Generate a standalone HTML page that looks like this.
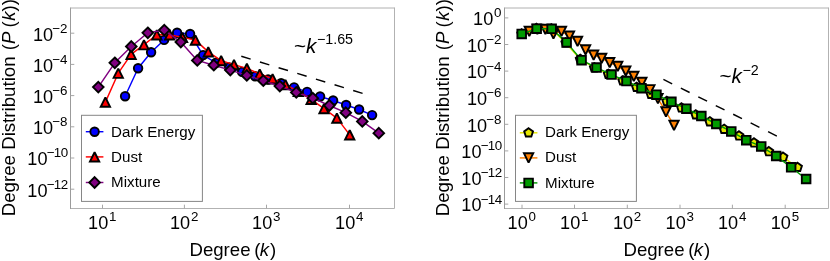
<!DOCTYPE html>
<html><head><meta charset="utf-8"><title>Degree distributions</title>
<style>html,body{margin:0;padding:0;background:#fff;}svg{display:block;}</style></head>
<body>
<svg width="830" height="261" viewBox="0 0 830 261" font-family='"Liberation Sans", sans-serif' fill="#000">
<rect width="830" height="261" fill="#fff"/>
<defs><filter id="nf" filterUnits="userSpaceOnUse" x="0" y="0" width="830" height="261" color-interpolation-filters="sRGB"><feOffset dx="0" dy="0"/></filter></defs>
<polyline points="70.5,208.5 394.5,208.5 394.5,8.0" fill="none" stroke="#b2b2b2" stroke-width="1" stroke-linecap="square"/>
<line x1="70.5" y1="7.5" x2="70.5" y2="209.0" stroke="#9b9b9b" stroke-width="1"/>
<line x1="70.5" y1="8.0" x2="394.5" y2="8.0" stroke="#b0b0b0" stroke-width="1"/>
<line x1="102.50" y1="208.5" x2="102.50" y2="204.7" stroke="#a6a6a6" stroke-width="1"/>
<line x1="184.40" y1="208.5" x2="184.40" y2="204.7" stroke="#a6a6a6" stroke-width="1"/>
<line x1="266.50" y1="208.5" x2="266.50" y2="204.7" stroke="#a6a6a6" stroke-width="1"/>
<line x1="349.50" y1="208.5" x2="349.50" y2="204.7" stroke="#a6a6a6" stroke-width="1"/>
<line x1="70.5" y1="33.20" x2="74.3" y2="33.20" stroke="#a6a6a6" stroke-width="1"/>
<line x1="70.5" y1="64.40" x2="74.3" y2="64.40" stroke="#a6a6a6" stroke-width="1"/>
<line x1="70.5" y1="95.60" x2="74.3" y2="95.60" stroke="#a6a6a6" stroke-width="1"/>
<line x1="70.5" y1="126.80" x2="74.3" y2="126.80" stroke="#a6a6a6" stroke-width="1"/>
<line x1="70.5" y1="158.00" x2="74.3" y2="158.00" stroke="#a6a6a6" stroke-width="1"/>
<line x1="70.5" y1="189.20" x2="74.3" y2="189.20" stroke="#a6a6a6" stroke-width="1"/>
<polyline points="125.10,96.20 138.10,68.20 151.10,52.30 164.10,39.90 177.10,32.70 190.10,34.00 203.10,55.10 216.10,62.80 229.10,67.40 242.10,71.90 255.10,76.20 268.10,79.50 281.10,83.30 294.10,87.40 307.10,91.90 320.10,96.50 333.10,100.50 346.10,105.00 359.10,109.50 372.10,115.10" fill="none" stroke="#0000ff" stroke-width="1.45" stroke-linejoin="round"/>
<circle cx="125.10" cy="96.20" r="4.25" fill="#0000ff" stroke="#000" stroke-width="1.9"/>
<circle cx="138.10" cy="68.20" r="4.25" fill="#0000ff" stroke="#000" stroke-width="1.9"/>
<circle cx="151.10" cy="52.30" r="4.25" fill="#0000ff" stroke="#000" stroke-width="1.9"/>
<circle cx="164.10" cy="39.90" r="4.25" fill="#0000ff" stroke="#000" stroke-width="1.9"/>
<circle cx="177.10" cy="32.70" r="4.25" fill="#0000ff" stroke="#000" stroke-width="1.9"/>
<circle cx="190.10" cy="34.00" r="4.25" fill="#0000ff" stroke="#000" stroke-width="1.9"/>
<circle cx="203.10" cy="55.10" r="4.25" fill="#0000ff" stroke="#000" stroke-width="1.9"/>
<circle cx="216.10" cy="62.80" r="4.25" fill="#0000ff" stroke="#000" stroke-width="1.9"/>
<circle cx="229.10" cy="67.40" r="4.25" fill="#0000ff" stroke="#000" stroke-width="1.9"/>
<circle cx="242.10" cy="71.90" r="4.25" fill="#0000ff" stroke="#000" stroke-width="1.9"/>
<circle cx="255.10" cy="76.20" r="4.25" fill="#0000ff" stroke="#000" stroke-width="1.9"/>
<circle cx="268.10" cy="79.50" r="4.25" fill="#0000ff" stroke="#000" stroke-width="1.9"/>
<circle cx="281.10" cy="83.30" r="4.25" fill="#0000ff" stroke="#000" stroke-width="1.9"/>
<circle cx="294.10" cy="87.40" r="4.25" fill="#0000ff" stroke="#000" stroke-width="1.9"/>
<circle cx="307.10" cy="91.90" r="4.25" fill="#0000ff" stroke="#000" stroke-width="1.9"/>
<circle cx="320.10" cy="96.50" r="4.25" fill="#0000ff" stroke="#000" stroke-width="1.9"/>
<circle cx="333.10" cy="100.50" r="4.25" fill="#0000ff" stroke="#000" stroke-width="1.9"/>
<circle cx="346.10" cy="105.00" r="4.25" fill="#0000ff" stroke="#000" stroke-width="1.9"/>
<circle cx="359.10" cy="109.50" r="4.25" fill="#0000ff" stroke="#000" stroke-width="1.9"/>
<circle cx="372.10" cy="115.10" r="4.25" fill="#0000ff" stroke="#000" stroke-width="1.9"/>
<polyline points="105.40,102.10 118.26,73.20 131.12,54.30 143.98,44.70 156.84,34.80 169.70,34.80 182.56,37.40 195.42,40.10 208.28,51.90 221.14,60.60 234.00,64.60 246.86,68.40 259.72,74.00 272.58,78.80 285.44,84.60 298.30,91.40 311.16,99.40 324.02,108.60 336.88,118.10 349.74,134.90" fill="none" stroke="#ff0000" stroke-width="1.45" stroke-linejoin="round"/>
<polygon points="105.40,97.45 100.75,106.75 110.05,106.75" fill="#ff0000" stroke="#000" stroke-width="1.9" stroke-linejoin="miter" stroke-miterlimit="2"/>
<polygon points="118.26,68.55 113.61,77.85 122.91,77.85" fill="#ff0000" stroke="#000" stroke-width="1.9" stroke-linejoin="miter" stroke-miterlimit="2"/>
<polygon points="131.12,49.65 126.47,58.95 135.77,58.95" fill="#ff0000" stroke="#000" stroke-width="1.9" stroke-linejoin="miter" stroke-miterlimit="2"/>
<polygon points="143.98,40.05 139.33,49.35 148.63,49.35" fill="#ff0000" stroke="#000" stroke-width="1.9" stroke-linejoin="miter" stroke-miterlimit="2"/>
<polygon points="156.84,30.15 152.19,39.45 161.49,39.45" fill="#ff0000" stroke="#000" stroke-width="1.9" stroke-linejoin="miter" stroke-miterlimit="2"/>
<polygon points="169.70,30.15 165.05,39.45 174.35,39.45" fill="#ff0000" stroke="#000" stroke-width="1.9" stroke-linejoin="miter" stroke-miterlimit="2"/>
<polygon points="182.56,32.75 177.91,42.05 187.21,42.05" fill="#ff0000" stroke="#000" stroke-width="1.9" stroke-linejoin="miter" stroke-miterlimit="2"/>
<polygon points="195.42,35.45 190.77,44.75 200.07,44.75" fill="#ff0000" stroke="#000" stroke-width="1.9" stroke-linejoin="miter" stroke-miterlimit="2"/>
<polygon points="208.28,47.25 203.63,56.55 212.93,56.55" fill="#ff0000" stroke="#000" stroke-width="1.9" stroke-linejoin="miter" stroke-miterlimit="2"/>
<polygon points="221.14,55.95 216.49,65.25 225.79,65.25" fill="#ff0000" stroke="#000" stroke-width="1.9" stroke-linejoin="miter" stroke-miterlimit="2"/>
<polygon points="234.00,59.95 229.35,69.25 238.65,69.25" fill="#ff0000" stroke="#000" stroke-width="1.9" stroke-linejoin="miter" stroke-miterlimit="2"/>
<polygon points="246.86,63.75 242.21,73.05 251.51,73.05" fill="#ff0000" stroke="#000" stroke-width="1.9" stroke-linejoin="miter" stroke-miterlimit="2"/>
<polygon points="259.72,69.35 255.07,78.65 264.37,78.65" fill="#ff0000" stroke="#000" stroke-width="1.9" stroke-linejoin="miter" stroke-miterlimit="2"/>
<polygon points="272.58,74.15 267.93,83.45 277.23,83.45" fill="#ff0000" stroke="#000" stroke-width="1.9" stroke-linejoin="miter" stroke-miterlimit="2"/>
<polygon points="285.44,79.95 280.79,89.25 290.09,89.25" fill="#ff0000" stroke="#000" stroke-width="1.9" stroke-linejoin="miter" stroke-miterlimit="2"/>
<polygon points="298.30,86.75 293.65,96.05 302.95,96.05" fill="#ff0000" stroke="#000" stroke-width="1.9" stroke-linejoin="miter" stroke-miterlimit="2"/>
<polygon points="311.16,94.75 306.51,104.05 315.81,104.05" fill="#ff0000" stroke="#000" stroke-width="1.9" stroke-linejoin="miter" stroke-miterlimit="2"/>
<polygon points="324.02,103.95 319.37,113.25 328.67,113.25" fill="#ff0000" stroke="#000" stroke-width="1.9" stroke-linejoin="miter" stroke-miterlimit="2"/>
<polygon points="336.88,113.45 332.23,122.75 341.53,122.75" fill="#ff0000" stroke="#000" stroke-width="1.9" stroke-linejoin="miter" stroke-miterlimit="2"/>
<polygon points="349.74,130.25 345.09,139.55 354.39,139.55" fill="#ff0000" stroke="#000" stroke-width="1.9" stroke-linejoin="miter" stroke-miterlimit="2"/>
<polyline points="98.30,87.10 114.80,62.80 131.30,46.50 147.80,32.80 164.30,30.10 180.80,42.00 197.30,60.40 213.80,65.20 230.30,70.10 246.80,75.40 263.30,80.70 279.80,86.10 296.30,92.40 312.80,98.20 329.30,105.50 345.80,112.70 362.30,121.40 378.80,133.20" fill="none" stroke="#800080" stroke-width="1.45" stroke-linejoin="round"/>
<polygon points="98.30,81.80 103.60,87.10 98.30,92.40 93.00,87.10" fill="#800080" stroke="#000" stroke-width="1.9" stroke-linejoin="miter" stroke-miterlimit="4"/>
<polygon points="114.80,57.50 120.10,62.80 114.80,68.10 109.50,62.80" fill="#800080" stroke="#000" stroke-width="1.9" stroke-linejoin="miter" stroke-miterlimit="4"/>
<polygon points="131.30,41.20 136.60,46.50 131.30,51.80 126.00,46.50" fill="#800080" stroke="#000" stroke-width="1.9" stroke-linejoin="miter" stroke-miterlimit="4"/>
<polygon points="147.80,27.50 153.10,32.80 147.80,38.10 142.50,32.80" fill="#800080" stroke="#000" stroke-width="1.9" stroke-linejoin="miter" stroke-miterlimit="4"/>
<polygon points="164.30,24.80 169.60,30.10 164.30,35.40 159.00,30.10" fill="#800080" stroke="#000" stroke-width="1.9" stroke-linejoin="miter" stroke-miterlimit="4"/>
<polygon points="180.80,36.70 186.10,42.00 180.80,47.30 175.50,42.00" fill="#800080" stroke="#000" stroke-width="1.9" stroke-linejoin="miter" stroke-miterlimit="4"/>
<polygon points="197.30,55.10 202.60,60.40 197.30,65.70 192.00,60.40" fill="#800080" stroke="#000" stroke-width="1.9" stroke-linejoin="miter" stroke-miterlimit="4"/>
<polygon points="213.80,59.90 219.10,65.20 213.80,70.50 208.50,65.20" fill="#800080" stroke="#000" stroke-width="1.9" stroke-linejoin="miter" stroke-miterlimit="4"/>
<polygon points="230.30,64.80 235.60,70.10 230.30,75.40 225.00,70.10" fill="#800080" stroke="#000" stroke-width="1.9" stroke-linejoin="miter" stroke-miterlimit="4"/>
<polygon points="246.80,70.10 252.10,75.40 246.80,80.70 241.50,75.40" fill="#800080" stroke="#000" stroke-width="1.9" stroke-linejoin="miter" stroke-miterlimit="4"/>
<polygon points="263.30,75.40 268.60,80.70 263.30,86.00 258.00,80.70" fill="#800080" stroke="#000" stroke-width="1.9" stroke-linejoin="miter" stroke-miterlimit="4"/>
<polygon points="279.80,80.80 285.10,86.10 279.80,91.40 274.50,86.10" fill="#800080" stroke="#000" stroke-width="1.9" stroke-linejoin="miter" stroke-miterlimit="4"/>
<polygon points="296.30,87.10 301.60,92.40 296.30,97.70 291.00,92.40" fill="#800080" stroke="#000" stroke-width="1.9" stroke-linejoin="miter" stroke-miterlimit="4"/>
<polygon points="312.80,92.90 318.10,98.20 312.80,103.50 307.50,98.20" fill="#800080" stroke="#000" stroke-width="1.9" stroke-linejoin="miter" stroke-miterlimit="4"/>
<polygon points="329.30,100.20 334.60,105.50 329.30,110.80 324.00,105.50" fill="#800080" stroke="#000" stroke-width="1.9" stroke-linejoin="miter" stroke-miterlimit="4"/>
<polygon points="345.80,107.40 351.10,112.70 345.80,118.00 340.50,112.70" fill="#800080" stroke="#000" stroke-width="1.9" stroke-linejoin="miter" stroke-miterlimit="4"/>
<polygon points="362.30,116.10 367.60,121.40 362.30,126.70 357.00,121.40" fill="#800080" stroke="#000" stroke-width="1.9" stroke-linejoin="miter" stroke-miterlimit="4"/>
<polygon points="378.80,127.90 384.10,133.20 378.80,138.50 373.50,133.20" fill="#800080" stroke="#000" stroke-width="1.9" stroke-linejoin="miter" stroke-miterlimit="4"/>
<line x1="241.3" y1="56.3" x2="363.4" y2="93.6" stroke="#000" stroke-width="1.45" stroke-dasharray="9.8 9.7"/>
<rect x="81.5" y="115.3" width="120.9" height="86.10000000000001" fill="#fff" stroke="#868686" stroke-width="1"/>
<line x1="85.80" y1="131.7" x2="103.40" y2="131.7" stroke="#0000ff" stroke-width="1.45"/>
<circle cx="94.60" cy="131.70" r="4.25" fill="#0000ff" stroke="#000" stroke-width="1.9"/>
<line x1="85.80" y1="156.9" x2="103.40" y2="156.9" stroke="#ff0000" stroke-width="1.45"/>
<polygon points="94.60,152.25 89.95,161.55 99.25,161.55" fill="#ff0000" stroke="#000" stroke-width="1.9" stroke-linejoin="miter" stroke-miterlimit="2"/>
<line x1="85.80" y1="182.5" x2="103.40" y2="182.5" stroke="#800080" stroke-width="1.45"/>
<polygon points="94.60,177.20 99.90,182.50 94.60,187.80 89.30,182.50" fill="#800080" stroke="#000" stroke-width="1.9" stroke-linejoin="miter" stroke-miterlimit="4"/>
<polyline points="504.5,208.5 828.5,208.5 828.5,8.0" fill="none" stroke="#b2b2b2" stroke-width="1" stroke-linecap="square"/>
<line x1="504.5" y1="7.5" x2="504.5" y2="209.0" stroke="#9b9b9b" stroke-width="1"/>
<line x1="504.5" y1="8.0" x2="828.5" y2="8.0" stroke="#b0b0b0" stroke-width="1"/>
<line x1="522.00" y1="208.5" x2="522.00" y2="204.7" stroke="#a6a6a6" stroke-width="1"/>
<line x1="574.50" y1="208.5" x2="574.50" y2="204.7" stroke="#a6a6a6" stroke-width="1"/>
<line x1="627.30" y1="208.5" x2="627.30" y2="204.7" stroke="#a6a6a6" stroke-width="1"/>
<line x1="680.00" y1="208.5" x2="680.00" y2="204.7" stroke="#a6a6a6" stroke-width="1"/>
<line x1="732.40" y1="208.5" x2="732.40" y2="204.7" stroke="#a6a6a6" stroke-width="1"/>
<line x1="785.20" y1="208.5" x2="785.20" y2="204.7" stroke="#a6a6a6" stroke-width="1"/>
<line x1="504.5" y1="17.90" x2="508.3" y2="17.90" stroke="#a6a6a6" stroke-width="1"/>
<line x1="504.5" y1="44.50" x2="508.3" y2="44.50" stroke="#a6a6a6" stroke-width="1"/>
<line x1="504.5" y1="71.10" x2="508.3" y2="71.10" stroke="#a6a6a6" stroke-width="1"/>
<line x1="504.5" y1="97.70" x2="508.3" y2="97.70" stroke="#a6a6a6" stroke-width="1"/>
<line x1="504.5" y1="124.30" x2="508.3" y2="124.30" stroke="#a6a6a6" stroke-width="1"/>
<line x1="504.5" y1="150.90" x2="508.3" y2="150.90" stroke="#a6a6a6" stroke-width="1"/>
<line x1="504.5" y1="177.50" x2="508.3" y2="177.50" stroke="#a6a6a6" stroke-width="1"/>
<line x1="504.5" y1="204.10" x2="508.3" y2="204.10" stroke="#a6a6a6" stroke-width="1"/>
<polyline points="521.70,33.90 536.50,28.30 551.50,28.90 565.80,42.90 580.20,59.20 594.30,67.70 608.30,74.20 622.80,80.70 636.50,87.20 651.00,94.20 666.80,101.40 681.50,107.90 695.80,114.80 709.80,121.70 724.10,129.20 739.00,135.90 754.00,142.90 768.80,151.60 783.00,157.10 797.50,167.30" fill="none" stroke="#e6e600" stroke-width="1.45" stroke-linejoin="round"/>
<polygon points="521.70,29.25 526.12,32.46 524.43,37.66 518.97,37.66 517.28,32.46" fill="#e6e600" stroke="#000" stroke-width="1.9" stroke-linejoin="miter" stroke-miterlimit="4"/>
<polygon points="536.50,23.65 540.92,26.86 539.23,32.06 533.77,32.06 532.08,26.86" fill="#e6e600" stroke="#000" stroke-width="1.9" stroke-linejoin="miter" stroke-miterlimit="4"/>
<polygon points="551.50,24.25 555.92,27.46 554.23,32.66 548.77,32.66 547.08,27.46" fill="#e6e600" stroke="#000" stroke-width="1.9" stroke-linejoin="miter" stroke-miterlimit="4"/>
<polygon points="565.80,38.25 570.22,41.46 568.53,46.66 563.07,46.66 561.38,41.46" fill="#e6e600" stroke="#000" stroke-width="1.9" stroke-linejoin="miter" stroke-miterlimit="4"/>
<polygon points="580.20,54.55 584.62,57.76 582.93,62.96 577.47,62.96 575.78,57.76" fill="#e6e600" stroke="#000" stroke-width="1.9" stroke-linejoin="miter" stroke-miterlimit="4"/>
<polygon points="594.30,63.05 598.72,66.26 597.03,71.46 591.57,71.46 589.88,66.26" fill="#e6e600" stroke="#000" stroke-width="1.9" stroke-linejoin="miter" stroke-miterlimit="4"/>
<polygon points="608.30,69.55 612.72,72.76 611.03,77.96 605.57,77.96 603.88,72.76" fill="#e6e600" stroke="#000" stroke-width="1.9" stroke-linejoin="miter" stroke-miterlimit="4"/>
<polygon points="622.80,76.05 627.22,79.26 625.53,84.46 620.07,84.46 618.38,79.26" fill="#e6e600" stroke="#000" stroke-width="1.9" stroke-linejoin="miter" stroke-miterlimit="4"/>
<polygon points="636.50,82.55 640.92,85.76 639.23,90.96 633.77,90.96 632.08,85.76" fill="#e6e600" stroke="#000" stroke-width="1.9" stroke-linejoin="miter" stroke-miterlimit="4"/>
<polygon points="651.00,89.55 655.42,92.76 653.73,97.96 648.27,97.96 646.58,92.76" fill="#e6e600" stroke="#000" stroke-width="1.9" stroke-linejoin="miter" stroke-miterlimit="4"/>
<polygon points="666.80,96.75 671.22,99.96 669.53,105.16 664.07,105.16 662.38,99.96" fill="#e6e600" stroke="#000" stroke-width="1.9" stroke-linejoin="miter" stroke-miterlimit="4"/>
<polygon points="681.50,103.25 685.92,106.46 684.23,111.66 678.77,111.66 677.08,106.46" fill="#e6e600" stroke="#000" stroke-width="1.9" stroke-linejoin="miter" stroke-miterlimit="4"/>
<polygon points="695.80,110.15 700.22,113.36 698.53,118.56 693.07,118.56 691.38,113.36" fill="#e6e600" stroke="#000" stroke-width="1.9" stroke-linejoin="miter" stroke-miterlimit="4"/>
<polygon points="709.80,117.05 714.22,120.26 712.53,125.46 707.07,125.46 705.38,120.26" fill="#e6e600" stroke="#000" stroke-width="1.9" stroke-linejoin="miter" stroke-miterlimit="4"/>
<polygon points="724.10,124.55 728.52,127.76 726.83,132.96 721.37,132.96 719.68,127.76" fill="#e6e600" stroke="#000" stroke-width="1.9" stroke-linejoin="miter" stroke-miterlimit="4"/>
<polygon points="739.00,131.25 743.42,134.46 741.73,139.66 736.27,139.66 734.58,134.46" fill="#e6e600" stroke="#000" stroke-width="1.9" stroke-linejoin="miter" stroke-miterlimit="4"/>
<polygon points="754.00,138.25 758.42,141.46 756.73,146.66 751.27,146.66 749.58,141.46" fill="#e6e600" stroke="#000" stroke-width="1.9" stroke-linejoin="miter" stroke-miterlimit="4"/>
<polygon points="768.80,146.95 773.22,150.16 771.53,155.36 766.07,155.36 764.38,150.16" fill="#e6e600" stroke="#000" stroke-width="1.9" stroke-linejoin="miter" stroke-miterlimit="4"/>
<polygon points="783.00,152.45 787.42,155.66 785.73,160.86 780.27,160.86 778.58,155.66" fill="#e6e600" stroke="#000" stroke-width="1.9" stroke-linejoin="miter" stroke-miterlimit="4"/>
<polygon points="797.50,162.65 801.92,165.86 800.23,171.06 794.77,171.06 793.08,165.86" fill="#e6e600" stroke="#000" stroke-width="1.9" stroke-linejoin="miter" stroke-miterlimit="4"/>
<polyline points="529.30,31.40 537.34,29.40 545.38,29.40 553.42,33.90 561.46,31.40 569.50,36.10 577.54,41.40 585.58,49.90 593.62,55.20 601.66,58.40 609.70,62.70 617.74,66.40 625.78,71.10 633.82,76.40 641.86,82.40 649.90,89.80 657.94,98.70 665.98,111.90 674.02,125.40" fill="none" stroke="#ff8000" stroke-width="1.45" stroke-linejoin="round"/>
<polygon points="529.30,36.05 524.65,26.75 533.95,26.75" fill="#ff8000" stroke="#000" stroke-width="1.9" stroke-linejoin="miter" stroke-miterlimit="2"/>
<polygon points="537.34,34.05 532.69,24.75 541.99,24.75" fill="#ff8000" stroke="#000" stroke-width="1.9" stroke-linejoin="miter" stroke-miterlimit="2"/>
<polygon points="545.38,34.05 540.73,24.75 550.03,24.75" fill="#ff8000" stroke="#000" stroke-width="1.9" stroke-linejoin="miter" stroke-miterlimit="2"/>
<polygon points="553.42,38.55 548.77,29.25 558.07,29.25" fill="#ff8000" stroke="#000" stroke-width="1.9" stroke-linejoin="miter" stroke-miterlimit="2"/>
<polygon points="561.46,36.05 556.81,26.75 566.11,26.75" fill="#ff8000" stroke="#000" stroke-width="1.9" stroke-linejoin="miter" stroke-miterlimit="2"/>
<polygon points="569.50,40.75 564.85,31.45 574.15,31.45" fill="#ff8000" stroke="#000" stroke-width="1.9" stroke-linejoin="miter" stroke-miterlimit="2"/>
<polygon points="577.54,46.05 572.89,36.75 582.19,36.75" fill="#ff8000" stroke="#000" stroke-width="1.9" stroke-linejoin="miter" stroke-miterlimit="2"/>
<polygon points="585.58,54.55 580.93,45.25 590.23,45.25" fill="#ff8000" stroke="#000" stroke-width="1.9" stroke-linejoin="miter" stroke-miterlimit="2"/>
<polygon points="593.62,59.85 588.97,50.55 598.27,50.55" fill="#ff8000" stroke="#000" stroke-width="1.9" stroke-linejoin="miter" stroke-miterlimit="2"/>
<polygon points="601.66,63.05 597.01,53.75 606.31,53.75" fill="#ff8000" stroke="#000" stroke-width="1.9" stroke-linejoin="miter" stroke-miterlimit="2"/>
<polygon points="609.70,67.35 605.05,58.05 614.35,58.05" fill="#ff8000" stroke="#000" stroke-width="1.9" stroke-linejoin="miter" stroke-miterlimit="2"/>
<polygon points="617.74,71.05 613.09,61.75 622.39,61.75" fill="#ff8000" stroke="#000" stroke-width="1.9" stroke-linejoin="miter" stroke-miterlimit="2"/>
<polygon points="625.78,75.75 621.13,66.45 630.43,66.45" fill="#ff8000" stroke="#000" stroke-width="1.9" stroke-linejoin="miter" stroke-miterlimit="2"/>
<polygon points="633.82,81.05 629.17,71.75 638.47,71.75" fill="#ff8000" stroke="#000" stroke-width="1.9" stroke-linejoin="miter" stroke-miterlimit="2"/>
<polygon points="641.86,87.05 637.21,77.75 646.51,77.75" fill="#ff8000" stroke="#000" stroke-width="1.9" stroke-linejoin="miter" stroke-miterlimit="2"/>
<polygon points="649.90,94.45 645.25,85.15 654.55,85.15" fill="#ff8000" stroke="#000" stroke-width="1.9" stroke-linejoin="miter" stroke-miterlimit="2"/>
<polygon points="657.94,103.35 653.29,94.05 662.59,94.05" fill="#ff8000" stroke="#000" stroke-width="1.9" stroke-linejoin="miter" stroke-miterlimit="2"/>
<polygon points="665.98,116.55 661.33,107.25 670.63,107.25" fill="#ff8000" stroke="#000" stroke-width="1.9" stroke-linejoin="miter" stroke-miterlimit="2"/>
<polygon points="674.02,130.05 669.37,120.75 678.67,120.75" fill="#ff8000" stroke="#000" stroke-width="1.9" stroke-linejoin="miter" stroke-miterlimit="2"/>
<polyline points="521.70,33.90 536.67,28.70 551.64,28.80 566.61,42.40 581.58,60.20 596.55,67.60 611.52,74.60 626.49,81.10 641.46,88.20 656.43,94.70 671.40,101.80 686.37,108.70 701.34,116.00 716.31,124.00 731.28,131.40 746.25,140.20 761.22,146.40 776.19,156.00 791.16,167.30 806.13,179.00" fill="none" stroke="#009a00" stroke-width="1.45" stroke-linejoin="round"/>
<polygon points="517.40,29.60 526.00,29.60 526.00,38.20 517.40,38.20" fill="#009a00" stroke="#000" stroke-width="1.9" stroke-linejoin="miter" stroke-miterlimit="4"/>
<polygon points="532.37,24.40 540.97,24.40 540.97,33.00 532.37,33.00" fill="#009a00" stroke="#000" stroke-width="1.9" stroke-linejoin="miter" stroke-miterlimit="4"/>
<polygon points="547.34,24.50 555.94,24.50 555.94,33.10 547.34,33.10" fill="#009a00" stroke="#000" stroke-width="1.9" stroke-linejoin="miter" stroke-miterlimit="4"/>
<polygon points="562.31,38.10 570.91,38.10 570.91,46.70 562.31,46.70" fill="#009a00" stroke="#000" stroke-width="1.9" stroke-linejoin="miter" stroke-miterlimit="4"/>
<polygon points="577.28,55.90 585.88,55.90 585.88,64.50 577.28,64.50" fill="#009a00" stroke="#000" stroke-width="1.9" stroke-linejoin="miter" stroke-miterlimit="4"/>
<polygon points="592.25,63.30 600.85,63.30 600.85,71.90 592.25,71.90" fill="#009a00" stroke="#000" stroke-width="1.9" stroke-linejoin="miter" stroke-miterlimit="4"/>
<polygon points="607.22,70.30 615.82,70.30 615.82,78.90 607.22,78.90" fill="#009a00" stroke="#000" stroke-width="1.9" stroke-linejoin="miter" stroke-miterlimit="4"/>
<polygon points="622.19,76.80 630.79,76.80 630.79,85.40 622.19,85.40" fill="#009a00" stroke="#000" stroke-width="1.9" stroke-linejoin="miter" stroke-miterlimit="4"/>
<polygon points="637.16,83.90 645.76,83.90 645.76,92.50 637.16,92.50" fill="#009a00" stroke="#000" stroke-width="1.9" stroke-linejoin="miter" stroke-miterlimit="4"/>
<polygon points="652.13,90.40 660.73,90.40 660.73,99.00 652.13,99.00" fill="#009a00" stroke="#000" stroke-width="1.9" stroke-linejoin="miter" stroke-miterlimit="4"/>
<polygon points="667.10,97.50 675.70,97.50 675.70,106.10 667.10,106.10" fill="#009a00" stroke="#000" stroke-width="1.9" stroke-linejoin="miter" stroke-miterlimit="4"/>
<polygon points="682.07,104.40 690.67,104.40 690.67,113.00 682.07,113.00" fill="#009a00" stroke="#000" stroke-width="1.9" stroke-linejoin="miter" stroke-miterlimit="4"/>
<polygon points="697.04,111.70 705.64,111.70 705.64,120.30 697.04,120.30" fill="#009a00" stroke="#000" stroke-width="1.9" stroke-linejoin="miter" stroke-miterlimit="4"/>
<polygon points="712.01,119.70 720.61,119.70 720.61,128.30 712.01,128.30" fill="#009a00" stroke="#000" stroke-width="1.9" stroke-linejoin="miter" stroke-miterlimit="4"/>
<polygon points="726.98,127.10 735.58,127.10 735.58,135.70 726.98,135.70" fill="#009a00" stroke="#000" stroke-width="1.9" stroke-linejoin="miter" stroke-miterlimit="4"/>
<polygon points="741.95,135.90 750.55,135.90 750.55,144.50 741.95,144.50" fill="#009a00" stroke="#000" stroke-width="1.9" stroke-linejoin="miter" stroke-miterlimit="4"/>
<polygon points="756.92,142.10 765.52,142.10 765.52,150.70 756.92,150.70" fill="#009a00" stroke="#000" stroke-width="1.9" stroke-linejoin="miter" stroke-miterlimit="4"/>
<polygon points="771.89,151.70 780.49,151.70 780.49,160.30 771.89,160.30" fill="#009a00" stroke="#000" stroke-width="1.9" stroke-linejoin="miter" stroke-miterlimit="4"/>
<polygon points="786.86,163.00 795.46,163.00 795.46,171.60 786.86,171.60" fill="#009a00" stroke="#000" stroke-width="1.9" stroke-linejoin="miter" stroke-miterlimit="4"/>
<polygon points="801.83,174.70 810.43,174.70 810.43,183.30 801.83,183.30" fill="#009a00" stroke="#000" stroke-width="1.9" stroke-linejoin="miter" stroke-miterlimit="4"/>
<line x1="663.4" y1="79.4" x2="778.6" y2="136.9" stroke="#000" stroke-width="1.45" stroke-dasharray="9.8 9.7"/>
<rect x="515.5" y="115.3" width="120.89999999999998" height="86.10000000000001" fill="#fff" stroke="#868686" stroke-width="1"/>
<line x1="519.80" y1="132.8" x2="537.40" y2="132.8" stroke="#e6e600" stroke-width="1.45"/>
<polygon points="528.60,128.15 533.02,131.36 531.33,136.56 525.87,136.56 524.18,131.36" fill="#e6e600" stroke="#000" stroke-width="1.9" stroke-linejoin="miter" stroke-miterlimit="4"/>
<line x1="519.80" y1="157.9" x2="537.40" y2="157.9" stroke="#ff8000" stroke-width="1.45"/>
<polygon points="528.60,162.55 523.95,153.25 533.25,153.25" fill="#ff8000" stroke="#000" stroke-width="1.9" stroke-linejoin="miter" stroke-miterlimit="2"/>
<line x1="519.80" y1="182.9" x2="537.40" y2="182.9" stroke="#009a00" stroke-width="1.45"/>
<polygon points="524.30,178.60 532.90,178.60 532.90,187.20 524.30,187.20" fill="#009a00" stroke="#000" stroke-width="1.9" stroke-linejoin="miter" stroke-miterlimit="4"/>
<g filter="url(#nf)">
<g transform="translate(102.30,228.80) scale(1.03,1)"><text x="0" y="0" text-anchor="middle" font-size="17.6">10<tspan dx="0.8" dy="-7.9" font-size="13.0">1</tspan></text></g>
<g transform="translate(184.20,228.80) scale(1.03,1)"><text x="0" y="0" text-anchor="middle" font-size="17.6">10<tspan dx="0.8" dy="-7.9" font-size="13.0">2</tspan></text></g>
<g transform="translate(266.30,228.80) scale(1.03,1)"><text x="0" y="0" text-anchor="middle" font-size="17.6">10<tspan dx="0.8" dy="-7.9" font-size="13.0">3</tspan></text></g>
<g transform="translate(349.30,228.80) scale(1.03,1)"><text x="0" y="0" text-anchor="middle" font-size="17.6">10<tspan dx="0.8" dy="-7.9" font-size="13.0">4</tspan></text></g>
<g transform="translate(67.50,40.50) scale(1.03,1)"><text x="0" y="0" text-anchor="end" font-size="17.6">10<tspan dx="-0.8" dy="-7.9" font-size="13.0">−2</tspan></text></g>
<g transform="translate(67.50,71.70) scale(1.03,1)"><text x="0" y="0" text-anchor="end" font-size="17.6">10<tspan dx="-0.8" dy="-7.9" font-size="13.0">−4</tspan></text></g>
<g transform="translate(67.50,102.90) scale(1.03,1)"><text x="0" y="0" text-anchor="end" font-size="17.6">10<tspan dx="-0.8" dy="-7.9" font-size="13.0">−6</tspan></text></g>
<g transform="translate(67.50,134.10) scale(1.03,1)"><text x="0" y="0" text-anchor="end" font-size="17.6">10<tspan dx="-0.8" dy="-7.9" font-size="13.0">−8</tspan></text></g>
<g transform="translate(67.50,165.30) scale(1.03,1)"><text x="0" y="0" text-anchor="end" font-size="17.6">10<tspan dx="-0.8" dy="-7.9" font-size="13.0" letter-spacing="-0.6">−10</tspan></text></g>
<g transform="translate(67.50,196.50) scale(1.03,1)"><text x="0" y="0" text-anchor="end" font-size="17.6">10<tspan dx="-0.8" dy="-7.9" font-size="13.0" letter-spacing="-0.6">−12</tspan></text></g>
<g transform="translate(15.20,216.30) rotate(-90) scale(0.989,1)"><text x="0" y="0" text-anchor="start" font-size="18.9">Degree Distribution <tspan dx="1">(</tspan><tspan font-style="italic">P</tspan><tspan dx="4">(</tspan><tspan font-style="italic" dx="0.5">k</tspan>))</text></g>
<g transform="translate(189.50,256.40) scale(1.0,1)"><text x="0" y="0" text-anchor="start" font-size="18.6">Degree <tspan dx="-1.5">(</tspan><tspan font-style="italic" dx="-0.7">k</tspan><tspan dx="1">)</tspan></text></g>
<g transform="translate(294.00,52.70) scale(1.02,1)"><text x="0" y="0" font-size="20.3">~<tspan font-style="italic">k</tspan><tspan dx="0.5" dy="-8.3" font-size="14.0">−1.65</tspan></text></g>
<g transform="translate(111.10,137.0) scale(1.045,1)"><text x="0" y="0" font-size="14.5">Dark Energy</text></g>
<g transform="translate(111.10,162.0) scale(1.045,1)"><text x="0" y="0" font-size="14.5">Dust</text></g>
<g transform="translate(111.10,187.3) scale(1.045,1)"><text x="0" y="0" font-size="14.5">Mixture</text></g>
<g transform="translate(521.80,228.80) scale(1.03,1)"><text x="0" y="0" text-anchor="middle" font-size="17.6">10<tspan dx="0.8" dy="-7.9" font-size="13.0">0</tspan></text></g>
<g transform="translate(574.30,228.80) scale(1.03,1)"><text x="0" y="0" text-anchor="middle" font-size="17.6">10<tspan dx="0.8" dy="-7.9" font-size="13.0">1</tspan></text></g>
<g transform="translate(627.10,228.80) scale(1.03,1)"><text x="0" y="0" text-anchor="middle" font-size="17.6">10<tspan dx="0.8" dy="-7.9" font-size="13.0">2</tspan></text></g>
<g transform="translate(679.80,228.80) scale(1.03,1)"><text x="0" y="0" text-anchor="middle" font-size="17.6">10<tspan dx="0.8" dy="-7.9" font-size="13.0">3</tspan></text></g>
<g transform="translate(732.20,228.80) scale(1.03,1)"><text x="0" y="0" text-anchor="middle" font-size="17.6">10<tspan dx="0.8" dy="-7.9" font-size="13.0">4</tspan></text></g>
<g transform="translate(785.00,228.80) scale(1.03,1)"><text x="0" y="0" text-anchor="middle" font-size="17.6">10<tspan dx="0.8" dy="-7.9" font-size="13.0">5</tspan></text></g>
<g transform="translate(501.50,25.20) scale(1.03,1)"><text x="0" y="0" text-anchor="end" font-size="17.6">10<tspan dx="0.8" dy="-7.9" font-size="13.0">0</tspan></text></g>
<g transform="translate(501.50,51.80) scale(1.03,1)"><text x="0" y="0" text-anchor="end" font-size="17.6">10<tspan dx="-0.8" dy="-7.9" font-size="13.0">−2</tspan></text></g>
<g transform="translate(501.50,78.40) scale(1.03,1)"><text x="0" y="0" text-anchor="end" font-size="17.6">10<tspan dx="-0.8" dy="-7.9" font-size="13.0">−4</tspan></text></g>
<g transform="translate(501.50,105.00) scale(1.03,1)"><text x="0" y="0" text-anchor="end" font-size="17.6">10<tspan dx="-0.8" dy="-7.9" font-size="13.0">−6</tspan></text></g>
<g transform="translate(501.50,131.60) scale(1.03,1)"><text x="0" y="0" text-anchor="end" font-size="17.6">10<tspan dx="-0.8" dy="-7.9" font-size="13.0">−8</tspan></text></g>
<g transform="translate(501.50,158.20) scale(1.03,1)"><text x="0" y="0" text-anchor="end" font-size="17.6">10<tspan dx="-0.8" dy="-7.9" font-size="13.0" letter-spacing="-0.6">−10</tspan></text></g>
<g transform="translate(501.50,184.80) scale(1.03,1)"><text x="0" y="0" text-anchor="end" font-size="17.6">10<tspan dx="-0.8" dy="-7.9" font-size="13.0" letter-spacing="-0.6">−12</tspan></text></g>
<g transform="translate(501.50,211.40) scale(1.03,1)"><text x="0" y="0" text-anchor="end" font-size="17.6">10<tspan dx="-0.8" dy="-7.9" font-size="13.0" letter-spacing="-0.6">−14</tspan></text></g>
<g transform="translate(449.20,216.30) rotate(-90) scale(0.989,1)"><text x="0" y="0" text-anchor="start" font-size="18.9">Degree Distribution <tspan dx="1">(</tspan><tspan font-style="italic">P</tspan><tspan dx="4">(</tspan><tspan font-style="italic" dx="0.5">k</tspan>))</text></g>
<g transform="translate(623.50,256.40) scale(1.0,1)"><text x="0" y="0" text-anchor="start" font-size="18.6">Degree <tspan dx="-1.5">(</tspan><tspan font-style="italic" dx="-0.7">k</tspan><tspan dx="1">)</tspan></text></g>
<g transform="translate(719.50,82.80) scale(1.02,1)"><text x="0" y="0" font-size="20.3">~<tspan font-style="italic">k</tspan><tspan dx="0.5" dy="-8.3" font-size="14.0">−2</tspan></text></g>
<g transform="translate(545.10,137.2) scale(1.045,1)"><text x="0" y="0" font-size="14.5">Dark Energy</text></g>
<g transform="translate(545.10,162.2) scale(1.045,1)"><text x="0" y="0" font-size="14.5">Dust</text></g>
<g transform="translate(545.10,187.5) scale(1.045,1)"><text x="0" y="0" font-size="14.5">Mixture</text></g>
</g>
</svg>
</body></html>
